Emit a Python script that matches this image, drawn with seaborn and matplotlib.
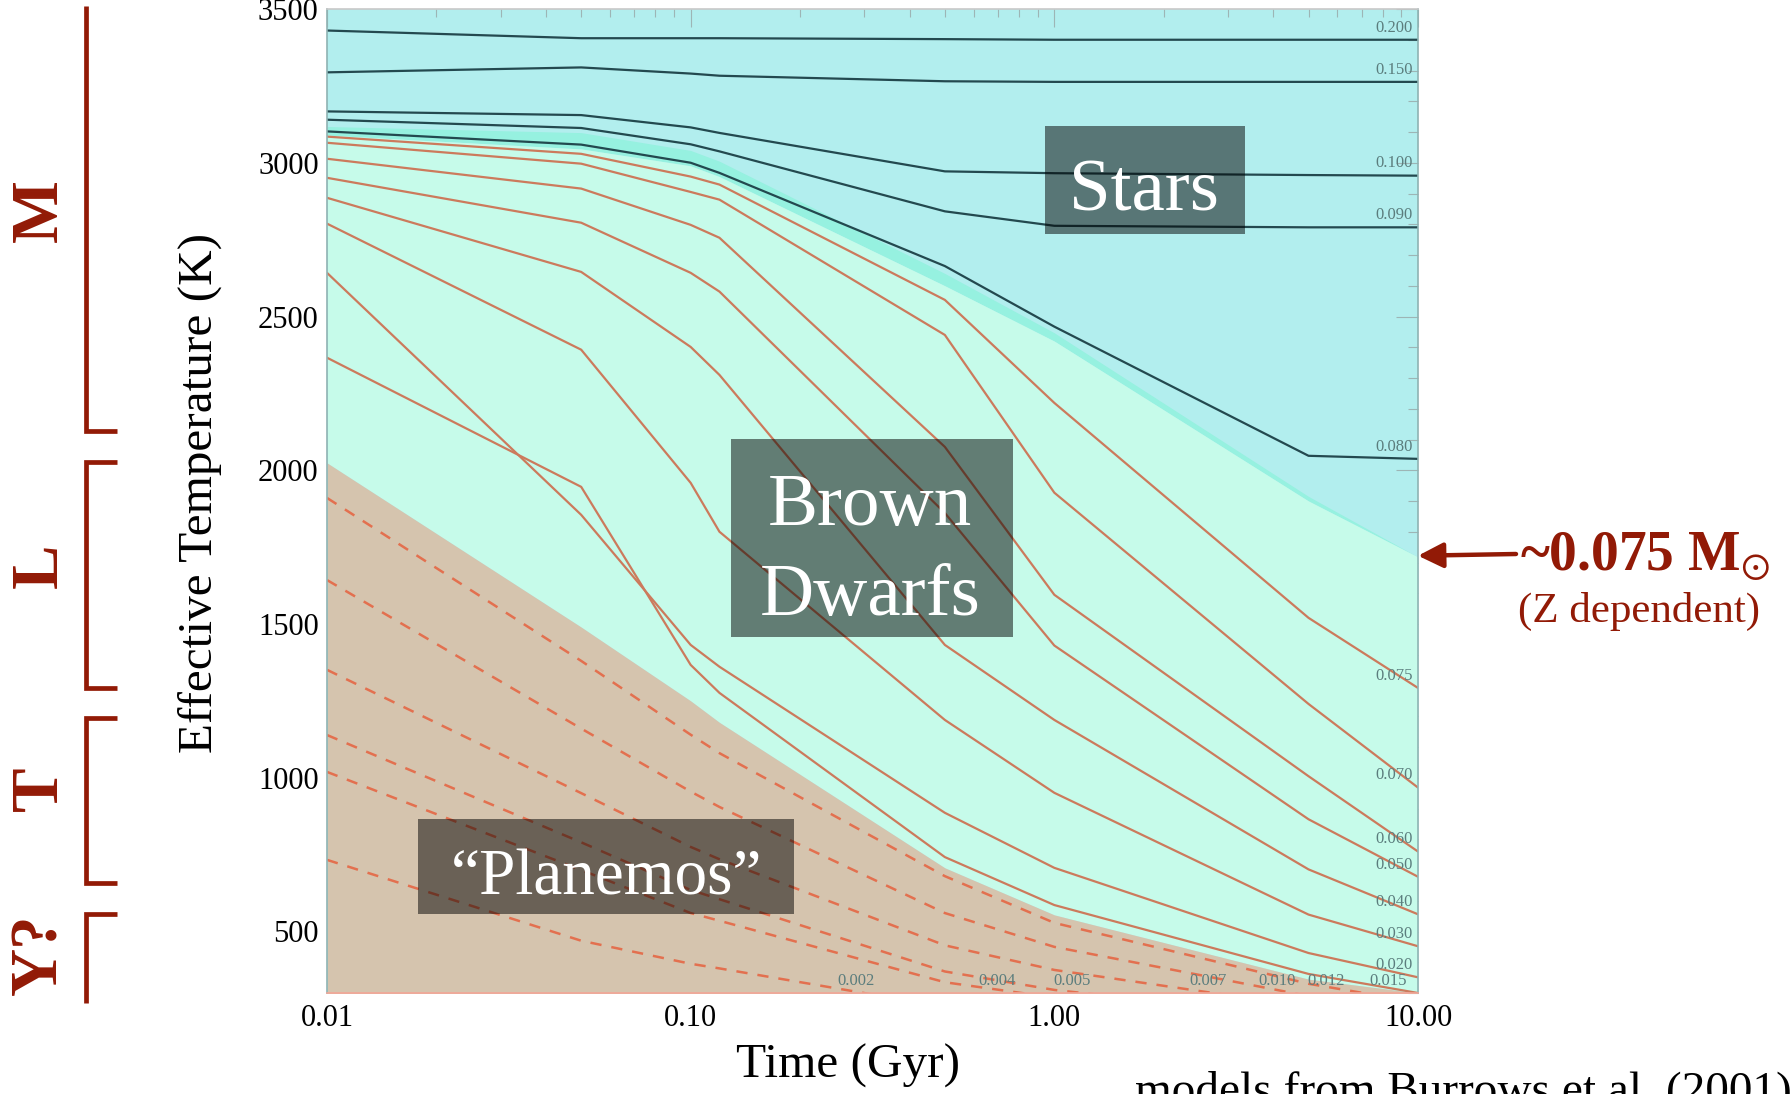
import matplotlib
matplotlib.use("Agg")
import matplotlib.pyplot as plt
import matplotlib.transforms as mtransforms
from matplotlib.patches import Rectangle
from matplotlib.ticker import FixedLocator, MultipleLocator, LogLocator, NullFormatter, FuncFormatter
import seaborn as sns

# ---------------------------------------------------------------- data
# model ages (Gyr)
ages = [0.01, 0.05, 0.10, 0.12, 0.50, 1.00, 5.00, 10.00]

# hydrogen-burning stars: effective temperature (K) at each age
star_masses = ["0.200", "0.150", "0.100", "0.090", "0.080"]
teff_m0200 = [3430, 3405, 3405, 3405, 3402, 3400, 3400, 3400]
teff_m0150 = [3294, 3310, 3290, 3283, 3265, 3263, 3263, 3263]
teff_m0100 = [3167, 3155, 3115, 3097, 2972, 2966, 2960, 2958]
teff_m0090 = [3140, 3113, 3060, 3037, 2842, 2795, 2790, 2790]
teff_m0080 = [3102, 3059, 3000, 2967, 2664, 2467, 2047, 2037]

# brown dwarfs
bd_masses = ["0.075", "0.070", "0.060", "0.050", "0.040", "0.030", "0.020", "0.015"]
teff_m0075 = [3085, 3029, 2955, 2929, 2554, 2219, 1520, 1292]
teff_m0070 = [3065, 2997, 2905, 2880, 2440, 1927, 1240, 968]
teff_m0060 = [3013, 2916, 2798, 2756, 2076, 1595, 1005, 760]
teff_m0050 = [2951, 2805, 2642, 2581, 1861, 1430, 865, 678]
teff_m0040 = [2886, 2645, 2401, 2310, 1432, 1188, 702, 556]
teff_m0030 = [2802, 2392, 1959, 1800, 1188, 951, 555, 452]
teff_m0020 = [2642, 1855, 1432, 1361, 886, 707, 430, 351]
teff_m0015 = [2366, 1946, 1367, 1276, 742, 586, 362, 300]

# planetary-mass objects (dashed)
planemo_masses = ["0.012", "0.010", "0.007", "0.005", "0.004", "0.002"]
teff_m0012 = [1910, 1380, 1140, 1080, 680, 528, 330, 270]
teff_m0010 = [1643, 1160, 955, 905, 560, 450, 290, 250]
teff_m0007 = [1351, 950, 775, 735, 455, 375, 255, 225]
teff_m0005 = [1139, 790, 635, 605, 370, 310, 220, 200]
teff_m0004 = [1019, 700, 560, 535, 335, 285, 200, 180]
teff_m0002 = [733, 470, 395, 380, 255, 220, 160, 150]

# region boundaries (K)
stars_edge = [3118, 3098, 3040, 3005, 2640, 2447, 1915, 1718]
band_edge = [3090, 3045, 2990, 2955, 2600, 2420, 1900, 1718]
planemo_edge = [2024, 1490, 1250, 1180, 707, 554, 345, 300]

# labels of the tracks that end on the bottom axis
bottom_labels = ["0.002", "0.004", "0.005", "0.007", "0.010", "0.012", "0.015"]
bottom_label_ages = [0.285, 0.695, 1.12, 2.65, 4.1, 5.6, 8.3]

# spectral classes (temperature ranges, K)
spec_names = ["M", "L", "T", "Y?"]
spec_top = [3510, 2027, 1195, 557]
spec_bottom = [2128, 1292, 658, 267]
spec_label_teff = [2844, 1689, 964, 427]
spec_hook_top = [False, True, True, True]
spec_hook_bottom = [True, True, True, False]

limit_teff = 1722

star_tracks = [teff_m0200, teff_m0150, teff_m0100, teff_m0090, teff_m0080]
bd_tracks = [teff_m0075, teff_m0070, teff_m0060, teff_m0050,
             teff_m0040, teff_m0030, teff_m0020, teff_m0015]
planemo_tracks = [teff_m0012, teff_m0010, teff_m0007, teff_m0005, teff_m0004, teff_m0002]

# ---------------------------------------------------------------- style
sns.set_theme(style="white")
plt.rcParams["font.family"] = ["Liberation Serif", "DejaVu Serif"]
plt.rcParams["mathtext.fontset"] = "stix"

W, H = 1792, 1094
fig = plt.figure(figsize=(W / 100, H / 100), dpi=100)
ax = fig.add_axes([327 / W, 1 - 993 / H, 1091 / W, 984 / H])
ax.set_xscale("log")
ax.set_xlim(0.01, 10)
ax.set_ylim(300, 3500)

CYAN = "#b2eeee"
TEAL = "#96f1e0"
MINT = "#c6fbea"
TAN = "#d5c4ae"
DARKRED = "#921a06"

ax.set_facecolor(CYAN)
ax.fill_between(ages, band_edge, stars_edge, color=TEAL, lw=0, zorder=0.5)
ax.fill_between(ages, planemo_edge, band_edge, color=MINT, lw=0, zorder=0.6)
ax.fill_between(ages, [0] * len(ages), planemo_edge, color=TAN, lw=0, zorder=0.7)

# evolutionary tracks
for vals in star_tracks:
    sns.lineplot(x=ages, y=vals, ax=ax, color="#23494f", lw=1.6,
                 estimator=None, sort=False, zorder=2)
for vals in bd_tracks:
    sns.lineplot(x=ages, y=vals, ax=ax, color="#cc7a5c", lw=1.6,
                 estimator=None, sort=False, zorder=2)
for vals in planemo_tracks:
    sns.lineplot(x=ages, y=vals, ax=ax, color="#e3704f", lw=1.8,
                 estimator=None, sort=False, zorder=2)
    ax.get_lines()[-1].set_dashes((4.5, 4.0))

# mass labels
lab_kw = dict(textcoords="offset points", ha="right", va="bottom",
              fontsize=12, color="#5b7d7d", zorder=5)
for name, vals in zip(star_masses, star_tracks):
    ax.annotate(name, xy=(ages[-1], vals[-1]), xytext=(-4, 3), **lab_kw)
for name, vals in zip(bd_masses[:-1], bd_tracks[:-1]):
    ax.annotate(name, xy=(ages[-1], vals[-1]), xytext=(-4, 3), **lab_kw)
for name, t in zip(bottom_labels, bottom_label_ages):
    ax.annotate(name, xy=(t, 300), xytext=(0, 3), textcoords="offset points",
                ha="center", va="bottom", fontsize=12, color="#5b7d7d", zorder=5)

# region boxes
def region_box(x, y, w, h):
    ax.add_patch(Rectangle((x, y), w, h, transform=ax.transAxes,
                           facecolor="black", alpha=0.5, lw=0, zorder=3))

region_box(0.658, 0.7713, 0.1833, 0.1098)
region_box(0.3703, 0.3618, 0.2585, 0.2012)
region_box(0.0834, 0.0803, 0.3446, 0.0965)
box_kw = dict(transform=ax.transAxes, color="white", ha="center",
              va="baseline", zorder=4)
ax.text(0.7489, 0.7957, "Stars", fontsize=54, **box_kw)
ax.text(0.4978, 0.4756, "Brown", fontsize=54, **box_kw)
ax.text(0.4978, 0.3841, "Dwarfs", fontsize=54, **box_kw)
ax.text(0.2567, 0.0996, "\u201cPlanemos\u201d", fontsize=47, **box_kw)

# axes decoration
for side in ["left", "right"]:
    ax.spines[side].set_color("#8fb3b3")
ax.spines["top"].set_color("#c8c8c8")
ax.spines["bottom"].set_color("#f2a597")
for sp in ax.spines.values():
    sp.set_linewidth(1.2)

ax.yaxis.set_major_locator(MultipleLocator(500))
ax.yaxis.set_minor_locator(MultipleLocator(100))
ax.xaxis.set_major_locator(FixedLocator([0.01, 0.1, 1, 10]))
ax.xaxis.set_minor_locator(LogLocator(base=10, subs=range(2, 10)))
ax.xaxis.set_minor_formatter(NullFormatter())
ax.xaxis.set_major_formatter(FuncFormatter(lambda v, p: f"{v:.2f}"))
ax.yaxis.set_major_formatter(FuncFormatter(lambda v, p: f"{v:.0f}"))
ax.tick_params(which="both", direction="in", top=True, right=True,
               color="#9db5b5", width=0.8, labelsize=22, labelcolor="black")
ax.tick_params(axis="x", which="major", length=13, pad=8)
ax.tick_params(axis="x", which="minor", length=6)
ax.tick_params(axis="y", which="major", length=16, pad=6)
ax.tick_params(axis="y", which="minor", length=7.5)

fig.text(200 / W, 1 - 493 / H, "Effective Temperature (K)", rotation=90,
         fontsize=35.5, ha="center", va="center", color="black")
fig.text(848 / W, 1 - 1078 / H, "Time (Gyr)", fontsize=35.5,
         ha="center", va="baseline", color="black")
fig.text(1135 / W, 1 - 1103 / H, "models from Burrows et al. (2001)",
         fontsize=34, ha="left", va="baseline", color="black")

# spectral classes along the temperature axis
blend = mtransforms.blended_transform_factory(fig.transFigure, ax.transData)
xv, xh = 86 / W, 117 / W
for name, top, bot, ht, hb, yl in zip(spec_names, spec_top, spec_bottom,
                                      spec_hook_top, spec_hook_bottom,
                                      spec_label_teff):
    xs, ys = [], []
    if ht:
        xs += [xh]
        ys += [top]
    xs += [xv, xv]
    ys += [top, bot]
    if hb:
        xs += [xh]
        ys += [bot]
    ax.plot(xs, ys, transform=blend, clip_on=False, color=DARKRED, lw=3.4,
            solid_joinstyle="miter", solid_capstyle="butt")
    ax.text(40 / W, yl, name, transform=blend, rotation=90, fontsize=48,
            fontweight="bold", color=DARKRED, ha="center", va="center",
            clip_on=False)

# stellar / substellar mass limit
ax.annotate("", xy=(ages[-1], limit_teff), xytext=(1516 / W, 1 - 554 / H),
            textcoords="figure fraction", annotation_clip=False,
            arrowprops=dict(arrowstyle="-|>,head_length=0.9,head_width=0.45",
                            mutation_scale=17, color=DARKRED, lw=3.2,
                            shrinkA=0, shrinkB=0))
fig.text(1520 / W, 1 - 570 / H, "~0.075 M$_{\\odot}$", fontsize=40,
         fontweight="bold", color=DARKRED, ha="left", va="baseline")
fig.text(1639 / W, 1 - 622 / H, "(Z dependent)", fontsize=31,
         color=DARKRED, ha="center", va="baseline")

fig.savefig("out.png", dpi=100)
